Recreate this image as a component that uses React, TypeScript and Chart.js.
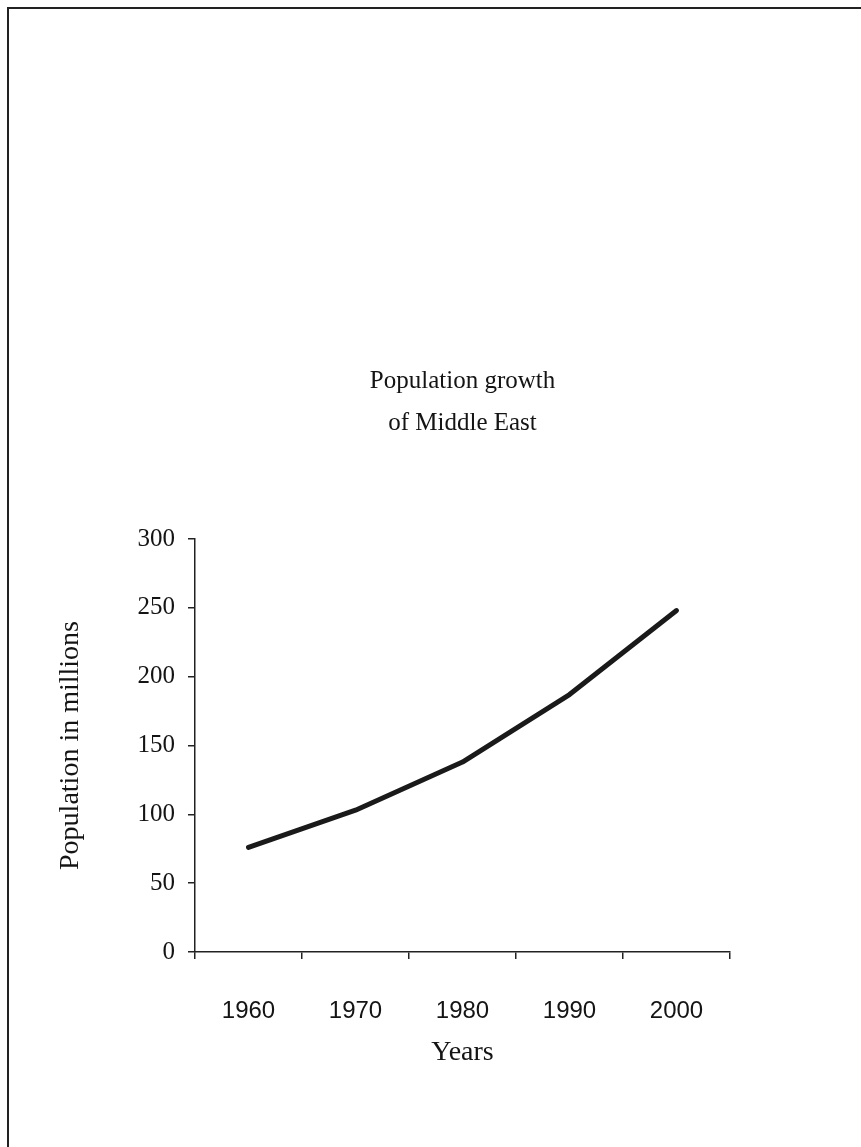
import { useEffect, useRef } from 'react';
import { Chart, registerables } from 'chart.js';

Chart.register(...registerables);

const years: string[] = ['1960', '1970', '1980', '1990', '2000'];
const population: number[] = [76, 103, 138, 187, 248];
const yMin = 0;
const yMax = 300;
const yStep = 50;
const titleLines: string[] = ['Population growth', 'of Middle East'];
const xTitle = 'Years';
const yTitle = 'Population in millions';

export default function App() {
  const ref = useRef<HTMLCanvasElement>(null);

  useEffect(() => {
    document.body.style.margin = '0';
    const canvas = ref.current;
    if (!canvas) return;
    const serif = "'Liberation Serif', 'Times New Roman', serif";
    const sans = "'Liberation Sans', Arial, sans-serif";
    const ink = '#141414';
    const chart = new Chart(canvas, {
      type: 'line',
      data: {
        labels: years,
        datasets: [
          {
            data: population,
            borderColor: '#1a1a1a',
            backgroundColor: '#1a1a1a',
            borderWidth: 5,
            borderCapStyle: 'round',
            borderJoinStyle: 'round',
            pointRadius: 0,
            pointHoverRadius: 0,
            tension: 0,
            fill: false,
          },
        ],
      },
      options: {
        animation: false,
        responsive: false,
        maintainAspectRatio: false,
        events: [],
        layout: { padding: { left: 0, right: 131, top: 0, bottom: 0 } },
        plugins: {
          legend: { display: false },
          tooltip: { enabled: false },
          title: {
            display: true,
            text: titleLines,
            fullSize: false,
            color: ink,
            font: { family: serif, size: 25, weight: 'normal', lineHeight: 1.68 },
            padding: { top: 360, bottom: 95 },
          },
        },
        scales: {
          x: {
            type: 'category',
            offset: true,
            afterFit: (scale: any) => {
              scale.height = 195;
            },
            grid: {
              display: true,
              offset: true,
              drawOnChartArea: false,
              drawTicks: true,
              tickLength: 7,
              color: '#222',
              lineWidth: 1.5,
            },
            border: { display: true, color: '#222', width: 1.5 },
            ticks: {
              color: ink,
              padding: 38,
              maxRotation: 0,
              autoSkip: false,
              font: { family: sans, size: 24, weight: 'normal' },
            },
            title: {
              display: true,
              text: xTitle,
              color: ink,
              font: { family: serif, size: 28, weight: 'normal', lineHeight: 1.2 },
              padding: { top: 0, bottom: 78 },
            },
          },
          y: {
            type: 'linear',
            min: yMin,
            max: yMax,
            afterFit: (scale: any) => {
              scale.width = 195;
            },
            grid: {
              display: true,
              drawOnChartArea: false,
              drawTicks: true,
              tickLength: 7,
              color: '#222',
              lineWidth: 1.5,
            },
            border: { display: true, color: '#222', width: 1.5 },
            ticks: {
              stepSize: yStep,
              color: ink,
              padding: 13,
              font: { family: serif, size: 25, weight: 'normal' },
            },
            title: {
              display: true,
              text: yTitle,
              color: ink,
              font: { family: serif, size: 28, weight: 'normal', lineHeight: 1.2 },
              padding: { top: 54, bottom: 0 },
            },
          },
        },
      },
    });
    return () => chart.destroy();
  }, []);

  return (
    <div style={{ position: 'relative', width: 861, height: 1147, background: '#ffffff', overflow: 'hidden' }}>
      <div
        style={{
          position: 'absolute',
          left: 7,
          top: 7,
          right: -10,
          bottom: -10,
          borderTop: '2px solid #222',
          borderLeft: '2px solid #222',
        }}
      />
      <canvas ref={ref} width={861} height={1147} style={{ position: 'absolute', left: 0, top: 0 }} />
    </div>
  );
}
